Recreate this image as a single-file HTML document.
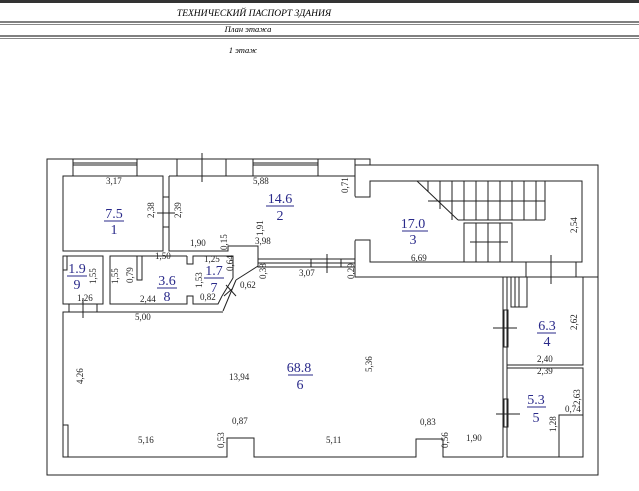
<!DOCTYPE html>
<html><head><meta charset="utf-8"><style>
html,body{margin:0;padding:0;background:#fff;}
svg{display:block;}
text{font-family:"Liberation Serif",serif;}
.d{font-size:9px;fill:#222;}
.a{font-size:14px;fill:#2a2a8a;text-anchor:middle;}
</style></head><body>
<svg width="639" height="491" viewBox="0 0 639 491" xmlns="http://www.w3.org/2000/svg">
<!-- header -->
<rect x="0" y="0" width="639" height="3" fill="#333"/>
<line x1="0" y1="22" x2="639" y2="22" stroke="#000" stroke-width="1"/>
<line x1="0" y1="24.5" x2="639" y2="24.5" stroke="#888" stroke-width="1"/>
<line x1="0" y1="36" x2="639" y2="36" stroke="#000" stroke-width="1"/>
<line x1="0" y1="38.5" x2="639" y2="38.5" stroke="#888" stroke-width="1"/>
<text x="254" y="16" font-size="9.5" font-style="italic" text-anchor="middle">ТЕХНИЧЕСКИЙ ПАСПОРТ ЗДАНИЯ</text>
<text x="248" y="32" font-size="8.5" font-style="italic" text-anchor="middle">План этажа</text>
<text x="243" y="53" font-size="8.5" font-style="italic" text-anchor="middle">1 этаж</text>

<g fill="none" stroke="#222" stroke-width="1">
<!-- outer frame -->
<polyline points="355,159 47,159 47,475 598,475 598,165 355,165"/>
<!-- windows top -->
<rect x="73" y="159" width="64" height="17"/><line x1="73" y1="163" x2="137" y2="163"/><line x1="73" y1="165" x2="137" y2="165"/>
<rect x="177" y="159" width="49" height="17"/><line x1="202" y1="153" x2="202" y2="182"/>
<rect x="253" y="159" width="65" height="17"/><line x1="253" y1="163" x2="318" y2="163"/><line x1="253" y1="165" x2="318" y2="165"/>
<!-- room 1 -->
<rect x="63" y="176" width="100" height="75"/>
<rect x="163" y="197" width="6" height="30"/><line x1="157" y1="213" x2="175" y2="213"/>
<!-- room 2 -->
<polyline points="169,176 355,176 355,197 370,197 370,181"/>
<polyline points="169,176 169,251 228,251 228,246 258,246 258,259 355,259 355,240 370,240"/>
<rect x="355" y="159" width="15" height="6"/>
<!-- window bottom of room2 -->
<rect x="258" y="259" width="97" height="8"/><line x1="258" y1="263" x2="355" y2="263"/>
<rect x="311" y="259" width="30" height="8"/><line x1="327" y1="254" x2="327" y2="273"/>
<!-- stair room 3 -->
<rect x="355" y="165" width="243" height="112"/>
<polyline points="370,197 370,181 582,181 582,262 370,262 370,240"/>
<rect x="355" y="197" width="15" height="43" fill="#fff" stroke="#fff"/>
<polyline points="355,197 370,197 370,181"/>
<polyline points="355,240 370,240 370,262"/>
<line x1="417" y1="181" x2="458" y2="220"/>
<line x1="458" y1="220" x2="545" y2="220"/>
<line x1="428" y1="201" x2="545" y2="201"/>
<g>
<line x1="428" y1="181" x2="428" y2="192"/><line x1="440" y1="181" x2="440" y2="209"/><line x1="452" y1="181" x2="452" y2="220"/><line x1="464" y1="181" x2="464" y2="220"/><line x1="476" y1="181" x2="476" y2="220"/><line x1="488" y1="181" x2="488" y2="220"/><line x1="500" y1="181" x2="500" y2="220"/><line x1="512" y1="181" x2="512" y2="220"/><line x1="524" y1="181" x2="524" y2="220"/><line x1="536" y1="181" x2="536" y2="220"/><line x1="545" y1="181" x2="545" y2="220"/>
</g>
<rect x="464" y="223" width="48" height="39"/>
<line x1="476" y1="223" x2="476" y2="262"/><line x1="488" y1="223" x2="488" y2="262"/><line x1="500" y1="223" x2="500" y2="262"/>
<line x1="470" y1="242" x2="508" y2="242"/>
<rect x="526" y="262" width="50" height="15"/><line x1="551" y1="255" x2="551" y2="284"/>
<!-- room 4 -->
<polyline points="503,277 503,457"/><polyline points="507,277 507,457"/>
<rect x="507" y="277" width="76" height="88"/>
<rect x="511" y="277" width="16" height="30"/><line x1="515" y1="277" x2="515" y2="307"/><line x1="519" y1="277" x2="519" y2="307"/>
<rect x="504" y="310" width="4" height="37"/><line x1="493" y1="328" x2="517" y2="328"/>
<!-- room 5 -->
<rect x="507" y="368" width="76" height="89"/>
<rect x="559" y="415" width="24" height="42"/>
<rect x="504" y="399" width="4" height="28"/><line x1="496" y1="414" x2="520" y2="414"/>
<!-- room 9 -->
<rect x="63" y="256" width="40" height="48"/>
<rect x="63" y="256" width="4" height="14"/>
<rect x="69" y="304" width="28" height="8"/><line x1="83" y1="298" x2="83" y2="318"/>
<!-- room 8 -->
<polyline points="187,256 110,256 110,304 187,304 187,296 193,296 193,304 218,304 222,296"/>
<polyline points="187,256 187,264 193,264 193,256 233,256 233,278"/>
<rect x="137" y="256" width="5" height="24"/>
<line x1="233" y1="278" x2="222" y2="296"/>
<line x1="236" y1="280" x2="223" y2="311"/>
<line x1="224" y1="296" x2="232" y2="289"/><line x1="226" y1="285" x2="236" y2="296"/>
<!-- room 6 -->
<polyline points="223,312 63,312 63,457 227,457 227,438 254,438 254,457 416,457 416,439 443,439 443,457 503,457"/>
<rect x="63" y="425" width="5" height="32"/>
<line x1="236" y1="280" x2="258" y2="266"/>
<polyline points="258,266 258,267 355,267 355,277 503,277"/>
</g>

<!-- room labels -->
<g class="a">
<text x="114" y="218">7.5</text><line x1="104" y1="221" x2="124" y2="221" stroke="#2a2a8a"/><text x="114" y="234">1</text>
<text x="280" y="203">14.6</text><line x1="266" y1="206" x2="294" y2="206" stroke="#2a2a8a"/><text x="280" y="220">2</text>
<text x="413" y="228">17.0</text><line x1="402" y1="231" x2="428" y2="231" stroke="#2a2a8a"/><text x="413" y="244">3</text>
<text x="547" y="330">6.3</text><line x1="537" y1="333" x2="556" y2="333" stroke="#2a2a8a"/><text x="547" y="346">4</text>
<text x="536" y="404">5.3</text><line x1="527" y1="407" x2="546" y2="407" stroke="#2a2a8a"/><text x="536" y="422">5</text>
<text x="299" y="372">68.8</text><line x1="288" y1="375" x2="313" y2="375" stroke="#2a2a8a"/><text x="300" y="389">6</text>
<text x="214" y="275">1.7</text><line x1="204" y1="278" x2="224" y2="278" stroke="#2a2a8a"/><text x="214" y="292">7</text>
<text x="167" y="285">3.6</text><line x1="157" y1="288" x2="177" y2="288" stroke="#2a2a8a"/><text x="167" y="301">8</text>
<text x="77" y="273">1.9</text><line x1="67" y1="276" x2="87" y2="276" stroke="#2a2a8a"/><text x="77" y="289">9</text>
</g>

<!-- dimensions -->
<g class="d">
<text x="106" y="184">3,17</text>
<text x="253" y="184">5,88</text>
<text x="190" y="246">1,90</text>
<text x="255" y="244">3,98</text>
<text x="155" y="259">1,50</text>
<text x="204" y="262">1,25</text>
<text x="140" y="302">2,44</text>
<text x="200" y="300">0,82</text>
<text x="240" y="288">0,62</text>
<text x="299" y="276">3,07</text>
<text x="77" y="301">1,26</text>
<text x="135" y="320">5,00</text>
<text x="411" y="261">6,69</text>
<text x="229" y="380">13,94</text>
<text x="537" y="362">2,40</text>
<text x="537" y="374">2,39</text>
<text x="565" y="412">0,74</text>
<text x="138" y="443">5,16</text>
<text x="232" y="424">0,87</text>
<text x="326" y="443">5,11</text>
<text x="420" y="425">0,83</text>
<text x="466" y="441">1,90</text>
</g>
<g class="d">
<text transform="translate(154,218) rotate(-90)">2,38</text>
<text transform="translate(181,218) rotate(-90)">2,39</text>
<text transform="translate(263,236) rotate(-90)">1,91</text>
<text transform="translate(227,250) rotate(-90)">0,15</text>
<text transform="translate(348,193) rotate(-90)">0,71</text>
<text transform="translate(577,233) rotate(-90)">2,54</text>
<text transform="translate(96,284) rotate(-90)">1,55</text>
<text transform="translate(118,284) rotate(-90)">1,55</text>
<text transform="translate(133,283) rotate(-90)">0,79</text>
<text transform="translate(202,288) rotate(-90)">1,53</text>
<text transform="translate(233,271) rotate(-90)">0,64</text>
<text transform="translate(266,279) rotate(-90)">0,38</text>
<text transform="translate(354,279) rotate(-90)">0,29</text>
<text transform="translate(577,330) rotate(-90)">2,62</text>
<text transform="translate(580,405) rotate(-90)">2,63</text>
<text transform="translate(556,432) rotate(-90)">1,28</text>
<text transform="translate(372,372) rotate(-90)">5,36</text>
<text transform="translate(83,384) rotate(-90)">4,26</text>
<text transform="translate(224,448) rotate(-90)">0,53</text>
<text transform="translate(448,448) rotate(-90)">0,56</text>
</g>
</svg>
</body></html>
